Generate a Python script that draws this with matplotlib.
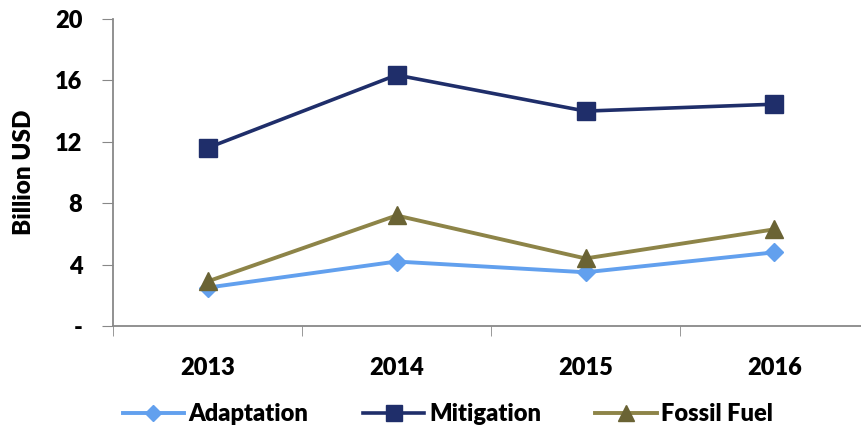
import matplotlib.pyplot as plt
from matplotlib.ticker import FuncFormatter

years = ['2013', '2014', '2015', '2016']
adaptation = [2.5, 4.2, 3.5, 4.8]
mitigation = [11.6, 16.35, 14.0, 14.45]
fossil_fuel = [2.9, 7.2, 4.4, 6.3]

plt.rcParams['font.family'] = ['Lato', 'DejaVu Sans']
plt.rcParams['font.weight'] = 'heavy'

fig = plt.figure(figsize=(8.61, 4.33), dpi=100)
# right edge of the axes runs past the figure, as in the original layout
ax = fig.add_axes([113 / 861, 1 - 326 / 433, 756 / 861, 307 / 433])

x = range(len(years))
ax.plot(x, adaptation, color='#62A0EE', lw=2.8, marker='D', ms=9,
        mfc='#62A0EE', mec='#62A0EE', label='Adaptation')
ax.plot(x, mitigation, color='#1F2E6A', lw=2.6, marker='s', ms=13,
        mfc='#1F2E6A', mec='#1F2E6A', label='Mitigation')
ax.plot(x, fossil_fuel, color='#8D8448', lw=2.8, marker='^', ms=13,
        mfc='#6A6334', mec='#6A6334', label='Fossil Fuel')

ax.set_xlim(-0.5, 3.5)
ax.set_ylim(0, 20)
ax.set_yticks([0, 4, 8, 12, 16, 20])
ax.yaxis.set_major_formatter(FuncFormatter(lambda v, p: '-' if v == 0 else '%d' % v))
ax.set_xticks(x)
ax.set_xticklabels(years)
ax.set_xticks([-0.5, 0.5, 1.5, 2.5, 3.5], minor=True)
ax.tick_params(axis='x', which='major', length=0, pad=22, labelsize=17)
ax.tick_params(axis='x', which='minor', length=7, color='#888888', direction='out')
ax.tick_params(axis='y', length=8, color='#888888', labelsize=17, pad=14)

for s in ['top', 'right']:
    ax.spines[s].set_visible(False)
for s in ['left', 'bottom']:
    ax.spines[s].set_color('#888888')
    ax.spines[s].set_linewidth(1.3)

ax.set_ylabel('Billion USD', fontsize=17.5, fontweight='heavy', labelpad=14)

fig.legend(loc='center', bbox_to_anchor=(448 / 861, 1 - 414 / 433), ncol=3,
           frameon=False, fontsize=17, handlelength=2.6, handletextpad=0.2,
           columnspacing=2.3, markerscale=0.85)

fig.savefig('out.png', dpi=100)
